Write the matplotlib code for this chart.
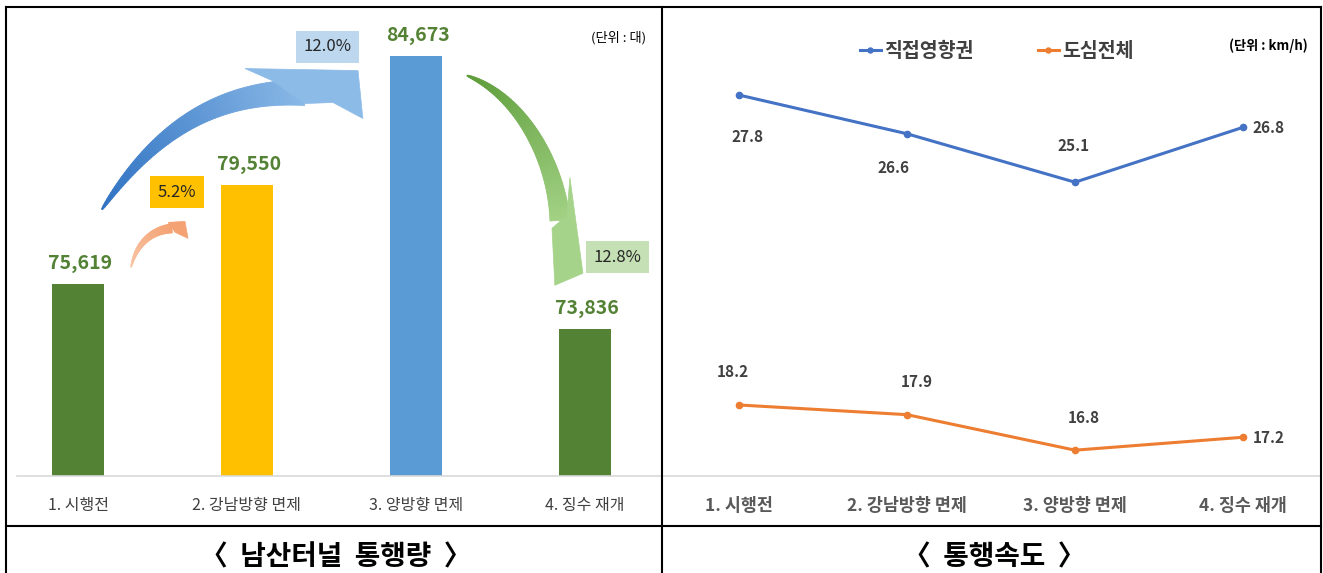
import numpy as np
import matplotlib
matplotlib.use('Agg')
import matplotlib.pyplot as plt
from matplotlib.collections import PolyCollection
from matplotlib.patches import Polygon
from matplotlib.lines import Line2D
from matplotlib.colors import to_rgb

plt.rcParams['font.family'] = ['Noto Sans CJK KR', 'DejaVu Sans']

# ---------------- data ----------------
categories = ['1. 시행전', '2. 강남방향 면제', '3. 양방향 면제', '4. 징수 재개']
traffic = [75619, 79550, 84673, 73836]
traffic_labels = ['75,619', '79,550', '84,673', '73,836']
change_pct = ['5.2%', '12.0%', '12.8%']
speed_direct = [27.8, 26.6, 25.1, 26.8]
speed_center = [18.2, 17.9, 16.8, 17.2]
series_names = ['직접영향권', '도심전체']
panel_titles = ['〈  남산터널  통행량  〉', '〈  통행속도  〉']
unit_labels = ['(단위 : 대)', '(단위 : km/h)']

W, H = 1323, 573
fig = plt.figure(figsize=(W / 100, H / 100), dpi=100)
fig.patch.set_facecolor('white')

x = np.arange(len(categories))

# ---------------- left panel: bars ----------------
ax1 = fig.add_axes([17 / W, (H - 476) / H, 645 / W, 453 / H])
bar_colors = ['#548235', '#FFC000', '#5B9BD5', '#548235']
ax1.bar(x, traffic, width=0.31, color=bar_colors, zorder=2)
ax1.set_xlim(-0.361, 3.456)
ax1.set_ylim(68000, 86000)
for s in ['top', 'left', 'right']:
    ax1.spines[s].set_visible(False)
ax1.spines['bottom'].set_color('#D9D9D9')
ax1.spines['bottom'].set_linewidth(1.2)
ax1.set_yticks([])
ax1.set_xticks(x)
ax1.set_xticklabels(categories, fontsize=11.5, color='#404040')
ax1.tick_params(axis='x', length=0, pad=15)

for xi, v, lbl in zip(x, traffic, traffic_labels):
    ax1.annotate(lbl, (xi, v), xytext=(1.5, 15), textcoords='offset points',
                 ha='center', va='center', fontsize=14, fontweight='bold',
                 color='#548235')


def draw_arrow(ax, p0, c1, c2, p3, wmax, col0, col1, head, head_col, n=80, expo=0.75):
    T = ax.transData
    P0, C1, C2, P3 = T.transform([p0, c1, c2, p3])
    t = np.linspace(0, 1, n)[:, None]
    B = ((1 - t) ** 3 * P0 + 3 * (1 - t) ** 2 * t * C1
         + 3 * (1 - t) * t ** 2 * C2 + t ** 3 * P3)
    D = (3 * (1 - t) ** 2 * (C1 - P0) + 6 * (1 - t) * t * (C2 - C1)
         + 3 * t ** 2 * (P3 - C2))
    N = np.column_stack([-D[:, 1], D[:, 0]])
    N /= np.linalg.norm(N, axis=1)[:, None]
    w = wmax * (0.05 + 0.95 * t[:, 0] ** expo)
    L = B + N * w[:, None] / 2
    R = B - N * w[:, None] / 2
    inv = T.inverted()
    Ld, Rd = inv.transform(L), inv.transform(R)
    c0, cc1 = np.array(to_rgb(col0)), np.array(to_rgb(col1))
    polys, cols = [], []
    for i in range(n - 1):
        polys.append([Ld[i], Ld[i + 1], Rd[i + 1], Rd[i]])
        f = (i + 0.5) / (n - 1)
        cols.append(tuple(c0 * (1 - f) + cc1 * f))
    pc = PolyCollection(polys, facecolors=cols, edgecolors=cols,
                        linewidths=0.6, zorder=3, clip_on=False)
    ax.add_collection(pc)
    ax.add_patch(Polygon(head, closed=True, fc=head_col, ec=head_col,
                         lw=0.5, zorder=3, clip_on=False))


# blue arrow (1 -> 3)
draw_arrow(ax1, (0.142, 78595), (0.467, 81848), (0.840, 83316), (1.343, 83237), 26,
           '#2F72C2', '#89B8E6',
           [(1.148, 83714), (0.988, 84190), (1.657, 84110), (1.686, 82205),
            (1.509, 82840), (1.343, 82801)],
           '#8DBBE8', expo=0.7)
# orange arrow (1 -> 2)
draw_arrow(ax1, (0.314, 76293), (0.343, 77166), (0.426, 77761), (0.556, 77840), 9,
           '#F8C6A6', '#F4A273',
           [(0.533, 78079), (0.633, 78118), (0.651, 77444), (0.575, 77680)],
           '#F4A273')
# green arrow (3 -> 4)
draw_arrow(ax1, (2.302, 83912), (2.615, 83118), (2.828, 80539), (2.852, 78158), 20,
           '#5B9B37', '#A2D184',
           [(2.893, 78356), (2.911, 79864), (2.988, 76055), (2.822, 75579),
            (2.805, 77841)],
           '#A5D38A', expo=0.7)

pct_pos = [(0.586, 79270), (1.479, 85063), (3.195, 76690)]
pct_bg = ['#FFC000', '#BDD7EE', '#C5E0B4']
for (px_, py_), s, bg in zip(pct_pos, change_pct, pct_bg):
    ax1.text(px_, py_, s, ha='center', va='center', fontsize=12,
             color='#262626', zorder=4, clip_on=False,
             bbox=dict(boxstyle='square,pad=0.45', fc=bg, ec='none'))

# ---------------- right panel: lines ----------------
ax2 = fig.add_axes([664 / W, (H - 476) / H, 656 / W, 452 / H])
l1, = ax2.plot(x, speed_direct, color='#4472C4', lw=2.2, marker='o', ms=4.5,
               label=series_names[0], zorder=3)
l2, = ax2.plot(x, speed_center, color='#ED7D31', lw=2.2, marker='o', ms=4.5,
               label=series_names[1], zorder=3)
ax2.set_xlim(-0.446, 3.458)
ax2.set_ylim(16, 30)
for s in ['top', 'left', 'right']:
    ax2.spines[s].set_visible(False)
ax2.spines['bottom'].set_color('#D9D9D9')
ax2.spines['bottom'].set_linewidth(1.2)
ax2.set_yticks([])
ax2.set_xticks(x)
ax2.set_xticklabels(categories, fontsize=12.5, color='#595959', fontweight='bold')
ax2.tick_params(axis='x', length=0, pad=15)

off_direct = [(9, -42), (-13, -34), (-1, 36), (26, -1)]
off_center = [(-6, 33), (10, 33), (9, 32), (26, -1)]
for vals, offs in [(speed_direct, off_direct), (speed_center, off_center)]:
    for xi, v, (dx, dy) in zip(x, vals, offs):
        ax2.annotate(f'{v:.1f}', (xi, v), xytext=(dx * 0.72, dy * 0.72),
                     textcoords='offset points', ha='center', va='center',
                     fontsize=11, fontweight='bold', color='#404040')

leg = fig.legend(handles=[l1, l2], loc='center',
                 bbox_to_anchor=(996.5 / W, 1 - 51 / H), ncol=2, frameon=False,
                 prop={'size': 14, 'weight': 'bold'}, handlelength=1.1,
                 handletextpad=0.15, columnspacing=3.3, markerscale=0.8)
for t in leg.get_texts():
    t.set_color('#404040')

# unit labels
fig.text(646 / W, 1 - 38 / H, unit_labels[0], ha='right', va='center',
         fontsize=9.5, color='#000000')
fig.text(1308 / W, 1 - 46 / H, unit_labels[1], ha='right', va='center',
         fontsize=9.5, fontweight='bold', color='#000000')

# captions
fig.text(336 / W, 1 - 557 / H, panel_titles[0], ha='center', va='center',
         fontsize=20, fontweight='bold', color='#000000')
fig.text(994 / W, 1 - 557 / H, panel_titles[1], ha='center', va='center',
         fontsize=20, fontweight='bold', color='#000000')

# table frame
def fline(xs, ys):
    fig.add_artist(Line2D([v / W for v in xs], [1 - v / H for v in ys],
                          transform=fig.transFigure, color='#000000', lw=1.5))

fline([6, 1321], [7, 7])
fline([6, 6], [7, 573])
fline([1321, 1321], [7, 573])
fline([662, 662], [7, 573])
fline([6, 1321], [526, 526])

fig.savefig('out.png', dpi=100)
